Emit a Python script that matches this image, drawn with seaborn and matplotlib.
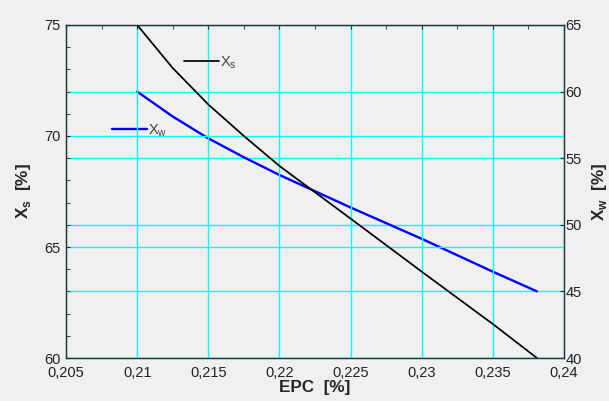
import numpy as np
import pandas as pd
import seaborn as sns
from matplotlib import pyplot as plt
from matplotlib.ticker import MultipleLocator, FuncFormatter

# valeurs
epc = [0.21, 0.2125, 0.215, 0.2175, 0.22, 0.225, 0.23, 0.235, 0.2381]
xs = [75.0, 73.06, 71.42, 70.0, 68.65, 66.28, 63.89, 61.53, 60.0]
xw = [60.0, 58.13, 56.49, 55.07, 53.74, 51.3, 48.95, 46.48, 45.0]

x_ticks = [0.205, 0.21, 0.215, 0.22, 0.225, 0.23, 0.235, 0.24]
left_ticks = [60, 65, 70, 75]
right_ticks = [40, 45, 50, 55, 60, 65]

df = pd.DataFrame({"EPC": epc, "Xs": xs, "Xw": xw})

sns.set_style("white")
plt.rcParams["font.family"] = ["Liberation Sans", "DejaVu Sans"]
plt.rcParams["mathtext.fontset"] = "custom"
plt.rcParams["mathtext.rm"] = "Liberation Sans"
plt.rcParams["mathtext.bf"] = "Liberation Sans:bold"

fig = plt.figure(figsize=(6.09, 4.01), dpi=100, facecolor="#f0f0f0")
ax = fig.add_subplot(111)
ax2 = ax.twinx()
fig.subplots_adjust(left=0.1084, right=0.9261, bottom=0.1072, top=0.9377)

# ax2 derriere, ax devant
ax.set_zorder(ax2.get_zorder() + 1)
ax.patch.set_visible(False)
ax2.patch.set_facecolor("white")

grid_kw = dict(color="#00ffff", linewidth=1.0)

sns.lineplot(data=df, x="EPC", y="Xw", ax=ax2, color="#0000ff", linewidth=1.7,
             label="X$_\\mathregular{w}$", sort=False)
sns.lineplot(data=df, x="EPC", y="Xs", ax=ax, color="black", linewidth=1.25,
             label="X$_\\mathregular{s}$", sort=False)

ax.set_xlim(0.205, 0.24)
ax.set_ylim(60, 75)
ax2.set_ylim(40, 65)

fmt = FuncFormatter(lambda v, p: f"{v:g}".replace(".", ","))
ax.set_xticks(x_ticks)
ax.xaxis.set_major_formatter(fmt)
ax.xaxis.set_minor_locator(MultipleLocator(0.0025))
ax.set_yticks(left_ticks)
ax.yaxis.set_minor_locator(MultipleLocator(1))
ax2.set_yticks(right_ticks)

ax.grid(True, which="major", **grid_kw)
ax2.grid(True, which="major", axis="y", **grid_kw)
ax.set_axisbelow(True)
ax2.set_axisbelow(True)

ax.tick_params(which="both", direction="in", length=3, top=True, right=False,
               labelsize=10.5, labelcolor="#222222")
ax.tick_params(axis="x", pad=6)
ax.tick_params(axis="y", pad=4)
ax2.tick_params(which="both", direction="in", length=3, labelsize=10.5,
                labelcolor="#222222", pad=1)

for a in (ax, ax2):
    for s in a.spines.values():
        s.set_color("#333333")
        s.set_linewidth(0.9)

ax.set_xlabel("EPC  [%]", fontsize=12.3, fontweight="bold", labelpad=0)
ax.set_ylabel("X$_\\mathbf{s}$  [%]", fontsize=12.3, fontweight="bold", labelpad=8)
ax2.set_ylabel("X$_\\mathbf{w}$  [%]", fontsize=12.3, fontweight="bold", labelpad=6,
               rotation=90)

leg_kw = dict(frameon=False, loc="center left", borderpad=0, borderaxespad=0,
              handlelength=2.4, handletextpad=0.1, fontsize=10.5,
              labelcolor="#444444")
ax.legend(bbox_to_anchor=(0.237, 0.886), **leg_kw)
ax2.legend(bbox_to_anchor=(0.092, 0.683), **leg_kw)

fig.savefig("out.png", dpi=100, facecolor=fig.get_facecolor())
